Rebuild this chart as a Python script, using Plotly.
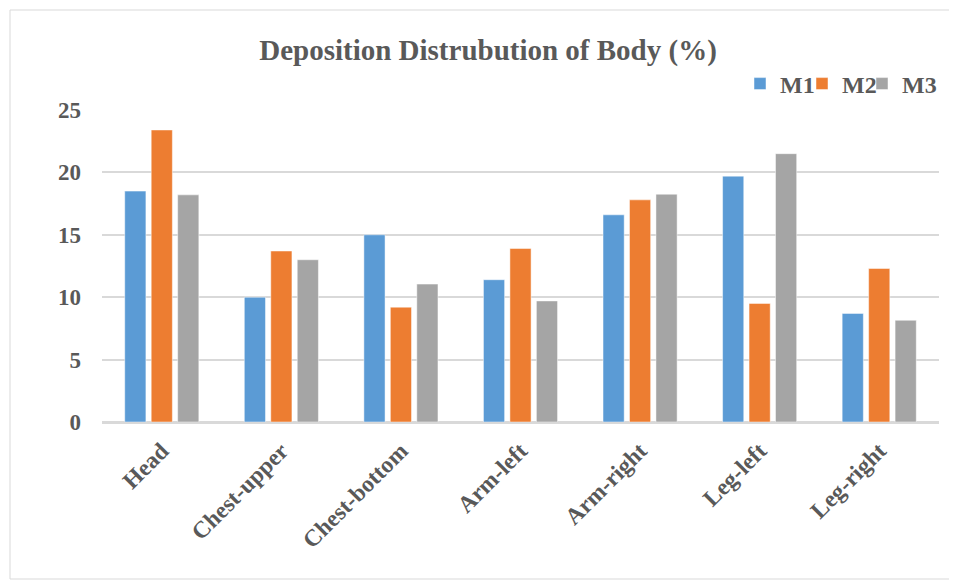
import plotly.graph_objects as go

categories = ["Head", "Chest-upper", "Chest-bottom", "Arm-left", "Arm-right", "Leg-left", "Leg-right"]
m1 = [18.5, 10.0, 15.0, 11.4, 16.6, 19.7, 8.7]
m2 = [23.4, 13.7, 9.2, 13.9, 17.8, 9.5, 12.3]
m3 = [18.2, 13.0, 11.05, 9.7, 18.25, 21.5, 8.15]
series_names = ["M1", "M2", "M3"]
colors = ["#5b9bd5", "#ed7d31", "#a5a5a5"]
y_ticks = [0, 5, 10, 15, 20, 25]

FONT = "Liberation Serif"
TXT = "#595959"

# page body has an 8px margin, so the figure is drawn 8px smaller and shifted
OFF = 8
W, H = 957 - OFF, 580 - OFF
L, R, T, B = 102 - OFF, 18, 110 - OFF, 158
pw = W - L - R
ph = H - T - B


def sx(px):  # screen x -> paper x
    return (px - OFF - L) / pw


def sy(py):  # screen y -> paper y
    return (H - B - (py - OFF)) / ph


legend_names = ["legend", "legend2", "legend3"]
legend_text_x = [778, 840, 900]

fig = go.Figure()
for name, vals, col, lg in zip(series_names, [m1, m2, m3], colors, legend_names):
    fig.add_trace(go.Bar(
        x=categories, y=vals, name=name, legend=lg, showlegend=True,
        marker=dict(color=col, line=dict(color="rgba(255,255,255,0.6)", width=0.8)),
    ))

legend_common = dict(
    orientation="h", xanchor="left", yanchor="middle", y=sy(84),
    font=dict(family=FONT, size=24, color=TXT, weight="bold"),
    itemwidth=30, bgcolor="rgba(0,0,0,0)", borderwidth=0, visible=True,
)
legend_layout = {}
for lg, tx in zip(legend_names, legend_text_x):
    legend_layout[lg] = dict(legend_common, x=sx(tx - 38))

fig.update_layout(
    width=W, height=H,
    margin=dict(l=L, r=R, t=T, b=B),
    paper_bgcolor="white", plot_bgcolor="white",
    showlegend=True,
    barmode="group", bargap=0.336, bargroupgap=0.2,
    font=dict(family=FONT, color=TXT),
    title=dict(
        text="<b>Deposition Distrubution of Body (%)</b>",
        x=(488 - OFF) / W, xanchor="center", y=1 - (50 - OFF) / H, yanchor="middle",
        font=dict(family=FONT, size=29, color=TXT),
    ),
    xaxis=dict(
        tickangle=-45, showgrid=False, showline=True, linecolor="#d9d9d9", linewidth=1.5,
        tickfont=dict(family=FONT, size=23.5, color=TXT, weight="bold"),
        ticks="", ticklabelstandoff=4,
    ),
    yaxis=dict(
        range=[0, 25], tickvals=y_ticks, showgrid=True, gridcolor="#d9d9d9", gridwidth=1.5,
        zeroline=True, zerolinecolor="#d9d9d9", zerolinewidth=1.5,
        tickfont=dict(family=FONT, size=23, color=TXT, weight="bold"),
        ticklabelstandoff=20, showline=False,
    ),
    shapes=[dict(
        type="rect", xref="paper", yref="paper",
        x0=sx(10), x1=sx(956), y0=sy(579), y1=sy(10),
        line=dict(color="#d9d9d9", width=1), fillcolor="rgba(0,0,0,0)", layer="below",
    )],
    **legend_layout,
)

fig.write_html("out.html")
